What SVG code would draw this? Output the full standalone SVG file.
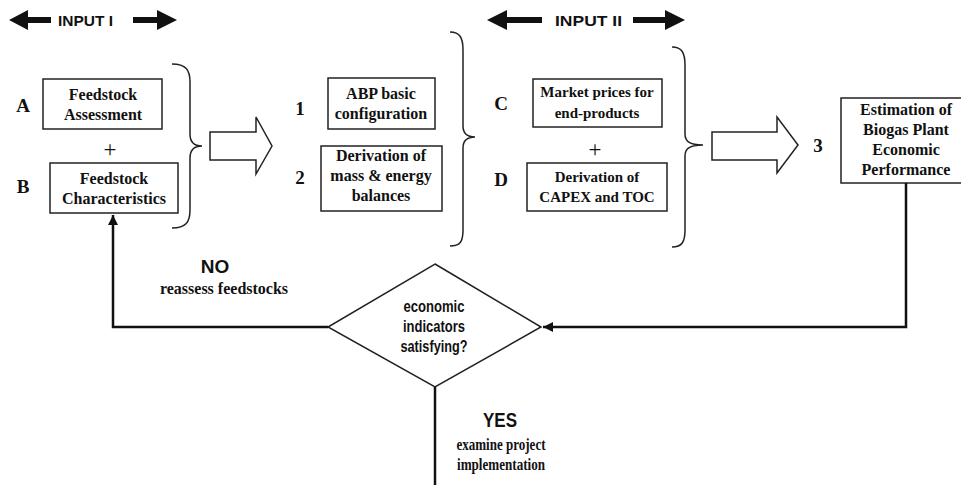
<svg xmlns="http://www.w3.org/2000/svg" width="961" height="485" viewBox="0 0 961 485">
<style>
.box{fill:#fff;stroke:#222;stroke-width:1.5}
.bt{font-family:"Liberation Serif","Times New Roman",serif;font-weight:bold;font-size:16px;fill:#111;text-anchor:middle}
.bt15{font-family:"Liberation Serif","Times New Roman",serif;font-weight:bold;font-size:15px;fill:#111;text-anchor:middle}
.lbl{font-family:"Liberation Serif","Times New Roman",serif;font-weight:bold;font-size:19px;fill:#111;text-anchor:middle}
.plus{font-family:"Liberation Serif","Times New Roman",serif;font-size:23px;fill:#111;text-anchor:middle}
.sans{font-family:"Liberation Sans",Arial,sans-serif;font-weight:bold;fill:#111}
.dt{font-family:"Liberation Sans",Arial,sans-serif;font-weight:bold;font-size:16px;fill:#111;text-anchor:middle}
.brace{fill:none;stroke:#222;stroke-width:1.5}
.hollow{fill:#fff;stroke:#222;stroke-width:1.5;stroke-linejoin:miter}
.conn{fill:none;stroke:#111;stroke-width:2.5}
.blk{fill:#111}
</style>
<defs>
<marker id="ah" viewBox="0 0 10 10" refX="10" refY="5" markerWidth="4" markerHeight="4" orient="auto" markerUnits="strokeWidth">
<path d="M0,0 L10,5 L0,10 z" fill="#111"/>
</marker>
</defs>
<rect width="961" height="485" fill="#fff"/>

<g id="input1-header">
<polygon class="blk" points="9,20 28,10 28,17 51,17 51,23 28,23 28,30"/>
<text class="sans" x="58" y="26" font-size="15.5">INPUT I</text>
<polygon class="blk" points="177,20 157,10 157,17 133,17 133,23 157,23 157,30"/>
</g>

<g id="input2-header">
<polygon class="blk" points="487,20 507,10 507,17 542,17 542,23 507,23 507,30"/>
<text class="sans" x="555" y="26" font-size="15.5" textLength="67" lengthAdjust="spacingAndGlyphs">INPUT II</text>
<polygon class="blk" points="685,20 665,10 665,17 633,17 633,23 665,23 665,30"/>
</g>

<g id="nodeA">
<text class="lbl" x="23" y="112">A</text>
<rect class="box" x="43" y="79" width="119" height="50"/>
<text class="bt" x="103" y="100">Feedstock</text>
<text class="bt" x="103" y="120">Assessment</text>
</g>
<text class="plus" x="110" y="157">+</text>
<g id="nodeB">
<text class="lbl" x="23" y="193">B</text>
<rect class="box" x="50" y="163" width="128" height="50"/>
<text class="bt" x="114" y="184">Feedstock</text>
<text class="bt" x="114" y="204">Characteristics</text>
</g>

<path class="brace" d="M172,64 C186,64 190,70 190,82 L190,134 C190,142 194,146 202,146 C194,146 190,150 190,158 L190,210 C190,222 186,228 172,228"/>
<polygon class="hollow" points="210,132 256,132 256,117 272,146 256,174 256,160 210,160"/>

<g id="node1">
<text class="lbl" x="300" y="115">1</text>
<rect class="box" x="328" y="78" width="107" height="51"/>
<text class="bt" x="381" y="99">ABP basic</text>
<text class="bt" x="381" y="119">configuration</text>
</g>
<g id="node2">
<text class="lbl" x="300" y="184">2</text>
<rect class="box" x="321" y="146" width="121" height="65"/>
<text class="bt" x="381" y="161">Derivation of</text>
<text class="bt" x="381" y="181">mass &amp; energy</text>
<text class="bt" x="381" y="201">balances</text>
</g>

<path class="brace" d="M450,32 C460,32 463,38 463,50 L463,126 C463,133 467,137 475,137 C467,137 463,141 463,148 L463,230 C463,242 460,246 450,246"/>

<g id="nodeC">
<text class="lbl" x="501" y="110">C</text>
<rect class="box" x="533" y="79" width="129" height="48"/>
<text class="bt15" x="597" y="97">Market prices for</text>
<text class="bt15" x="597" y="118">end-products</text>
</g>
<text class="plus" x="595" y="157">+</text>
<g id="nodeD">
<text class="lbl" x="501" y="186">D</text>
<rect class="box" x="527" y="163" width="140" height="48"/>
<text class="bt15" x="597" y="182">Derivation of</text>
<text class="bt15" x="597" y="202">CAPEX and TOC</text>
</g>

<path class="brace" d="M672,47 C682,47 685,53 685,65 L685,134 C685,141 689,145 703,145 C689,145 685,149 685,156 L685,230 C685,242 682,247 672,247"/>
<polygon class="hollow" points="712,132 777,132 777,117 798,145 777,173 777,160 712,160"/>

<g id="node3">
<text class="lbl" x="818" y="152">3</text>
<rect class="box" x="841" y="98" width="125" height="85"/>
<text class="bt" x="906" y="115">Estimation of</text>
<text class="bt" x="906" y="135">Biogas Plant</text>
<text class="bt" x="906" y="155">Economic</text>
<text class="bt" x="906" y="175">Performance</text>
</g>

<g id="decision">
<polygon class="box" points="435,264 541,327 435,387 328,327"/>
<text class="dt" x="434" y="312" textLength="61" lengthAdjust="spacingAndGlyphs">economic</text>
<text class="dt" x="434" y="332" textLength="62" lengthAdjust="spacingAndGlyphs">indicators</text>
<text class="dt" x="434" y="352" textLength="67" lengthAdjust="spacingAndGlyphs">satisfying?</text>
</g>

<g id="connectors">
<path class="conn" d="M906,183 L906,327 L543,327" marker-end="url(#ah)"/>
<path class="conn" d="M328,327 L113,327 L113,215" marker-end="url(#ah)"/>
<path class="conn" d="M435,387 L435,485"/>
</g>

<g id="labels">
<text class="sans" x="215" y="273" font-size="19" text-anchor="middle">NO</text>
<text class="bt" x="224" y="294">reassess feedstocks</text>
<text class="sans" x="500" y="427" font-size="20" text-anchor="middle" textLength="34" lengthAdjust="spacingAndGlyphs">YES</text>
<text class="bt" x="501" y="450" textLength="89" lengthAdjust="spacingAndGlyphs">examine project</text>
<text class="bt" x="501" y="470" textLength="88" lengthAdjust="spacingAndGlyphs">implementation</text>
</g>
</svg>
